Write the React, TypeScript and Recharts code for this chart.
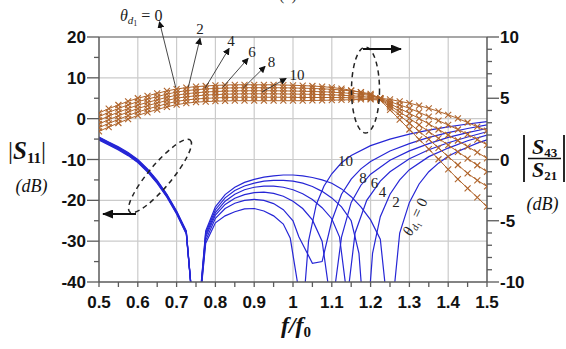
import React from 'react';
import { ComposedChart, Line, XAxis, YAxis, ReferenceLine } from 'recharts';

// Frequency grid (f/f0) shared by the |S43/S21| traces
const freqGrid = [
  0.5, 0.525, 0.55, 0.575, 0.6, 0.625, 0.65, 0.675, 0.7, 0.725, 0.75, 0.775, 0.8, 0.825,
  0.85, 0.875, 0.9, 0.925, 0.95, 0.975, 1.0, 1.025, 1.05, 1.075, 1.1, 1.125, 1.15, 1.175,
  1.2, 1.225, 1.25, 1.275, 1.3, 1.325, 1.35, 1.375, 1.4, 1.425, 1.45, 1.475, 1.5,
];

const xTicks = [
  0.5, 0.55, 0.6, 0.65, 0.7, 0.75, 0.8, 0.85, 0.9, 0.95, 1.0, 1.05, 1.1, 1.15, 1.2, 1.25,
  1.3, 1.35, 1.4, 1.45, 1.5,
];
const leftTicks = [-40, -35, -30, -25, -20, -15, -10, -5, 0, 5, 10, 15, 20];
const rightTicks = [-10, -9, -8, -7, -6, -5, -4, -3, -2, -1, 0, 1, 2, 3, 4, 5, 6, 7, 8, 9, 10];
const xGridValues = [0.6, 0.7, 0.8, 0.9, 1.0, 1.1, 1.2, 1.3, 1.4];
const leftGridValues = [-30, -20, -10, 0, 10];

// |S11| (dB) for theta_d1 = 0, 2, 4, 6, 8, 10 as [f/f0, dB] pairs
const s11Theta0: [number, number][] = [
  [0.5, -4.5], [0.525, -5.7], [0.55, -6.9], [0.575, -8.3], [0.6, -10.0], [0.625, -12.3],
  [0.65, -15.1], [0.675, -18.5], [0.7, -22.6], [0.725, -27.5], [0.75, -55],
  [0.775, -27.5], [0.8, -21.6], [0.825, -18.6], [0.85, -16.8], [0.875, -15.6], [0.9, -14.85],
  [0.925, -14.3], [0.95, -14.0], [0.975, -13.8], [1.0, -13.8], [1.025, -14.0], [1.05, -14.4],
  [1.075, -15.0], [1.1, -15.8], [1.125, -17.2], [1.15, -19.1], [1.175, -21.6], [1.2, -24.8],
  [1.225, -29.5], [1.25, -52], [1.275, -28], [1.3, -20.5], [1.325, -16], [1.35, -13],
  [1.375, -10.9], [1.4, -9.2], [1.425, -8.0], [1.45, -7.0], [1.475, -6.0], [1.5, -5.2],
];
const s11Theta2: [number, number][] = [
  [0.5, -4.65], [0.525, -5.85], [0.55, -7.05], [0.575, -8.45], [0.6, -10.15], [0.625, -12.45],
  [0.65, -15.25], [0.675, -18.65], [0.7, -22.75], [0.725, -27.65], [0.75, -55],
  [0.775, -28], [0.8, -22.3], [0.825, -19.4], [0.85, -17.6], [0.875, -16.5], [0.9, -15.8],
  [0.925, -15.3], [0.95, -15.1], [0.975, -15.1], [1.0, -15.3], [1.025, -15.8], [1.05, -16.6],
  [1.075, -17.8], [1.1, -19.4], [1.125, -21.6], [1.15, -25], [1.17, -33], [1.1875, -55],
  [1.205, -33], [1.225, -24], [1.25, -18.5], [1.275, -15], [1.3, -12.5], [1.35, -9.3],
  [1.4, -7.2], [1.45, -5.4], [1.5, -4.0],
];
const s11Theta4: [number, number][] = [
  [0.5, -4.8], [0.525, -6.0], [0.55, -7.2], [0.575, -8.6], [0.6, -10.3], [0.625, -12.6],
  [0.65, -15.4], [0.675, -18.8], [0.7, -22.9], [0.725, -27.8], [0.75, -55],
  [0.775, -28.5], [0.8, -23], [0.825, -20.2], [0.85, -18.5], [0.875, -17.4], [0.9, -16.8],
  [0.925, -16.5], [0.95, -16.5], [0.975, -16.8], [1.0, -17.4], [1.025, -18.4], [1.05, -19.8],
  [1.075, -21.8], [1.1, -24.5], [1.12, -29], [1.14, -44], [1.16, -28], [1.19, -20],
  [1.225, -15.3], [1.25, -13], [1.3, -9.8], [1.35, -7.6], [1.4, -5.9], [1.45, -4.5], [1.5, -3.2],
];
const s11Theta6: [number, number][] = [
  [0.5, -4.95], [0.525, -6.15], [0.55, -7.35], [0.575, -8.75], [0.6, -10.45], [0.625, -12.75],
  [0.65, -15.55], [0.675, -18.95], [0.7, -23.05], [0.725, -27.95], [0.75, -55],
  [0.775, -29], [0.8, -23.6], [0.825, -21], [0.85, -19.5], [0.875, -18.6], [0.9, -18.1],
  [0.925, -18.0], [0.95, -18.3], [0.975, -19.0], [1.0, -20.2], [1.025, -22], [1.05, -24.8],
  [1.075, -30], [1.1, -47], [1.125, -29], [1.15, -20.5], [1.175, -16.3], [1.2, -13.6],
  [1.25, -10.2], [1.3, -7.9], [1.35, -6.1], [1.4, -4.6], [1.45, -3.4], [1.5, -2.4],
];
const s11Theta8: [number, number][] = [
  [0.5, -5.1], [0.525, -6.3], [0.55, -7.5], [0.575, -8.9], [0.6, -10.6], [0.625, -12.9],
  [0.65, -15.7], [0.675, -19.1], [0.7, -23.2], [0.725, -28.1], [0.75, -55],
  [0.775, -29.8], [0.8, -24.4], [0.825, -22], [0.85, -20.7], [0.875, -20.0], [0.9, -19.75],
  [0.925, -20.0], [0.95, -20.8], [0.975, -22.3], [1.0, -25], [1.015, -28.9], [1.05, -35.4],
  [1.075, -35], [1.1, -25], [1.125, -18.5], [1.15, -14.8], [1.175, -12.3], [1.2, -10.5],
  [1.25, -7.9], [1.3, -6.1], [1.35, -4.6], [1.4, -3.4], [1.45, -2.4], [1.5, -1.5],
];
const s11Theta10: [number, number][] = [
  [0.5, -5.25], [0.525, -6.45], [0.55, -7.65], [0.575, -9.05], [0.6, -10.75], [0.625, -13.05],
  [0.65, -15.85], [0.675, -19.25], [0.7, -23.35], [0.725, -28.25], [0.75, -55],
  [0.775, -30.5], [0.8, -25.5], [0.825, -23.8], [0.85, -22.8], [0.875, -22.1], [0.9, -22.0],
  [0.925, -22.6], [0.95, -23.8], [0.975, -25.8], [0.993, -29.3], [1.025, -48], [1.04, -30],
  [1.06, -21], [1.08, -16.5], [1.1, -13.5], [1.125, -10.8], [1.15, -9.0], [1.2, -6.6],
  [1.25, -5.0], [1.3, -3.8], [1.35, -2.8], [1.4, -2.0], [1.45, -1.3], [1.5, -0.74],
];

// |S43/S21| (dB) on freqGrid
const s43Theta0 = [
  3.8, 4.15, 4.45, 4.75, 5.0, 5.2, 5.4, 5.6, 5.75, 5.87, 5.95, 6.0, 6.05, 6.08, 6.1, 6.1, 6.1,
  6.1, 6.1, 6.08, 6.06, 6.03, 6.0, 5.95, 5.88, 5.78, 5.65, 5.48, 5.25, 5.0, 4.9, 4.75, 4.6, 4.4,
  4.18, 3.93, 3.65, 3.35, 3.02, 2.68, 2.35,
];
const s43Theta2 = [
  3.5, 3.85, 4.16, 4.46, 4.72, 4.93, 5.13, 5.34, 5.5, 5.62, 5.7, 5.76, 5.8, 5.83, 5.85, 5.86,
  5.86, 5.86, 5.86, 5.85, 5.84, 5.82, 5.8, 5.77, 5.73, 5.67, 5.6, 5.5, 5.35, 5.0, 4.72, 4.45,
  4.18, 3.85, 3.5, 3.17, 2.82, 2.45, 2.05, 1.63, 1.2,
];
const s43Theta4 = [
  3.2, 3.55, 3.86, 4.16, 4.44, 4.66, 4.87, 5.08, 5.25, 5.37, 5.45, 5.51, 5.55, 5.58, 5.6, 5.61,
  5.61, 5.61, 5.61, 5.6, 5.59, 5.57, 5.55, 5.53, 5.5, 5.45, 5.4, 5.33, 5.22, 4.98, 4.55, 4.15,
  3.77, 3.35, 2.9, 2.45, 2.0, 1.55, 1.05, 0.58, 0.1,
];
const s43Theta6 = [
  2.9, 3.25, 3.57, 3.88, 4.16, 4.4, 4.61, 4.82, 5.0, 5.12, 5.2, 5.26, 5.3, 5.33, 5.35, 5.36,
  5.36, 5.36, 5.36, 5.35, 5.34, 5.33, 5.32, 5.3, 5.28, 5.25, 5.2, 5.15, 5.07, 4.95, 4.4, 3.88,
  3.36, 2.82, 2.28, 1.73, 1.18, 0.63, 0.08, -0.47, -1.0,
];
const s43Theta8 = [
  2.6, 2.95, 3.27, 3.59, 3.88, 4.12, 4.34, 4.56, 4.74, 4.86, 4.94, 4.99, 5.03, 5.06, 5.08, 5.08,
  5.08, 5.08, 5.08, 5.08, 5.07, 5.06, 5.06, 5.06, 5.06, 5.05, 5.04, 5.02, 4.98, 4.9, 4.25, 3.6,
  2.96, 2.3, 1.65, 0.95, 0.23, -0.45, -1.13, -1.7, -2.2,
];
const s43Theta10 = [
  2.3, 2.65, 2.98, 3.3, 3.6, 3.85, 4.08, 4.3, 4.48, 4.6, 4.68, 4.73, 4.76, 4.78, 4.8, 4.8, 4.8,
  4.8, 4.8, 4.8, 4.8, 4.8, 4.82, 4.83, 4.85, 4.86, 4.88, 4.9, 4.9, 4.85, 4.05, 3.25, 2.45, 1.65,
  0.85, 0.02, -0.8, -1.6, -2.35, -3.1, -3.85,
];

const s11Series = [s11Theta0, s11Theta2, s11Theta4, s11Theta6, s11Theta8, s11Theta10];
const s43Series = [s43Theta0, s43Theta2, s43Theta4, s43Theta6, s43Theta8, s43Theta10];

const BLUE = '#2626d6';
const BROWN = '#b0652c';
const AXIS = '#5a5a5a';
const GRID = '#cbcbcb';
const TICK_FONT = '"Liberation Sans", Arial, sans-serif';
const SERIF = '"Liberation Serif", "DejaVu Serif", serif';

const isMultiple = (v: number, step: number) =>
  Math.abs(Math.round(v / step) * step - v) < 1e-6;

const LeftTick = (props: any) => {
  const { x, y, payload } = props;
  const major = isMultiple(payload.value, 10);
  return (
    <g>
      <line x1={x - (major ? 12 : 5)} x2={x} y1={y} y2={y} stroke={AXIS} strokeWidth={1.3} />
      {major && (
        <text x={x - 13} y={y + 6} textAnchor="end" fontFamily={TICK_FONT} fontWeight="bold" fontSize={17} fill="#111">
          {payload.value}
        </text>
      )}
    </g>
  );
};

const RightTick = (props: any) => {
  const { x, y, payload } = props;
  const major = isMultiple(payload.value, 5);
  return (
    <g>
      <line x1={x} x2={x + (major ? 12 : 5)} y1={y} y2={y} stroke={AXIS} strokeWidth={1.3} />
      {major && (
        <text x={x + 13} y={y + 6} textAnchor="start" fontFamily={TICK_FONT} fontWeight="bold" fontSize={17} fill="#111">
          {payload.value}
        </text>
      )}
    </g>
  );
};

const BottomTick = (props: any) => {
  const { x, y, payload } = props;
  const major = isMultiple(payload.value, 0.1);
  return (
    <g>
      <line x1={x} x2={x} y1={y} y2={y + 5} stroke={AXIS} strokeWidth={1.3} />
      {major && (
        <text x={x} y={y + 26} textAnchor="middle" fontFamily={TICK_FONT} fontWeight="bold" fontSize={17} fill="#111">
          {String(Math.round(payload.value * 10) / 10)}
        </text>
      )}
    </g>
  );
};

const CrossDot = (props: any) => {
  const { cx, cy, index } = props;
  if (cx == null || cy == null) return <g key={`d-${index}`} />;
  const s = 3;
  return (
    <g key={`d-${index}`}>
      <line x1={cx - s} y1={cy - s} x2={cx + s} y2={cy + s} stroke={BROWN} strokeWidth={1.1} />
      <line x1={cx - s} y1={cy + s} x2={cx + s} y2={cy - s} stroke={BROWN} strokeWidth={1.1} />
    </g>
  );
};

const Annotations = () => (
  <svg
    width={566}
    height={349}
    style={{ position: 'absolute', left: 0, top: 0, pointerEvents: 'none', overflow: 'visible' }}
  >
    <defs>
      <marker id="tipSmall" markerUnits="userSpaceOnUse" markerWidth={7} markerHeight={7} refX={6} refY={3.5} orient="auto">
        <path d="M0,0 L7,3.5 L0,7 z" fill="#111" />
      </marker>
      <marker id="tipBig" markerUnits="userSpaceOnUse" markerWidth={11} markerHeight={9} refX={10} refY={4.5} orient="auto">
        <path d="M0,0 L11,4.5 L0,9 z" fill="#111" />
      </marker>
    </defs>

    {/* panel tag, mostly above the top edge */}
    <text x={288} y={0} textAnchor="middle" fontFamily={SERIF} fontSize={16} fill="#333">(a)</text>

    {/* theta labels for the transmission traces */}
    <text x={120} y={21} fontFamily={SERIF} fontSize={16} fill="#222">
      <tspan fontStyle="italic">θ</tspan>
      <tspan fontStyle="italic" fontSize={11} dy={3}>d</tspan>
      <tspan fontSize={8} dy={2}>1</tspan>
      <tspan dy={-5}> = 0</tspan>
    </text>
    <text x={200} y={34} textAnchor="middle" fontFamily={SERIF} fontSize={15} fill="#222">2</text>
    <text x={231} y={46} textAnchor="middle" fontFamily={SERIF} fontSize={15} fill="#222">4</text>
    <text x={252} y={56.5} textAnchor="middle" fontFamily={SERIF} fontSize={15} fill="#222">6</text>
    <text x={271.5} y={66.5} textAnchor="middle" fontFamily={SERIF} fontSize={15} fill="#222">8</text>
    <text x={297} y={80} textAnchor="middle" fontFamily={SERIF} fontSize={15} fill="#222">10</text>

    <g stroke="#333" strokeWidth={0.9} fill="none">
      <line x1={175.7} y1={87.3} x2={159.5} y2={22} markerEnd="url(#tipSmall)" />
      <line x1={188.3} y1={87.3} x2={200} y2={38.5} markerEnd="url(#tipSmall)" />
      <line x1={205} y1={88.3} x2={229} y2={48.5} markerEnd="url(#tipSmall)" />
      <line x1={222.7} y1={87.3} x2={248} y2={58.5} markerEnd="url(#tipSmall)" />
      <line x1={243.3} y1={88} x2={265} y2={66.5} markerEnd="url(#tipSmall)" />
      <line x1={262} y1={92} x2={286} y2={78.5} markerEnd="url(#tipSmall)" />
    </g>

    {/* theta labels for the reflection traces */}
    <g fontFamily={SERIF} fontSize={15} fill="#222" textAnchor="middle">
      <text x={345.5} y={166}>10</text>
      <text x={363} y={183}>8</text>
      <text x={374.5} y={188}>6</text>
      <text x={382.5} y={197}>4</text>
      <text x={396} y={207}>2</text>
      <text x={415} y={216.7} transform="rotate(-65 415 216.7)" dy={5}>
        <tspan fontStyle="italic">θ</tspan>
        <tspan fontStyle="italic" fontSize={10} dy={3}>d</tspan>
        <tspan fontSize={7} dy={2}>1</tspan>
        <tspan dy={-5}> = 0</tspan>
      </text>
    </g>

    {/* axis pointers */}
    <ellipse cx={160} cy={176} rx={47} ry={11.5} transform="rotate(-50 160 176)" fill="none" stroke="#222" strokeWidth={1.5} strokeDasharray="5 4" />
    <line x1={136} y1={214} x2={103} y2={214} stroke="#111" strokeWidth={2.2} markerEnd="url(#tipBig)" />
    <ellipse cx={365.5} cy={90} rx={14} ry={43} fill="none" stroke="#222" strokeWidth={1.5} strokeDasharray="5 4" />
    <line x1={363} y1={49} x2={401} y2={49} stroke="#111" strokeWidth={2.2} markerEnd="url(#tipBig)" />

    {/* left axis title */}
    <text x={8} y={159} fontFamily={SERIF} fontSize={25} fill="#111">
      <tspan>|</tspan>
      <tspan fontStyle="italic" fontWeight="bold">S</tspan>
      <tspan fontWeight="bold" fontSize={15} dy={4}>11</tspan>
      <tspan dy={-4}>|</tspan>
    </text>
    <text x={31.5} y={192} textAnchor="middle" fontFamily={SERIF} fontStyle="italic" fontSize={18} fill="#111">(dB)</text>

    {/* right axis title */}
    <line x1={524} y1={135} x2={524} y2={182} stroke="#111" strokeWidth={1.8} />
    <line x1={564} y1={135} x2={564} y2={182} stroke="#111" strokeWidth={1.8} />
    <text x={544.5} y={153.5} textAnchor="middle" fontFamily={SERIF} fontSize={22} fill="#111">
      <tspan fontStyle="italic" fontWeight="bold">S</tspan>
      <tspan fontWeight="bold" fontSize={13} dy={3}>43</tspan>
    </text>
    <line x1={528} y1={158.5} x2={561} y2={158.5} stroke="#111" strokeWidth={1.5} />
    <text x={544.5} y={177} textAnchor="middle" fontFamily={SERIF} fontSize={22} fill="#111">
      <tspan fontStyle="italic" fontWeight="bold">S</tspan>
      <tspan fontWeight="bold" fontSize={13} dy={3}>21</tspan>
    </text>
    <text x={542.5} y={210} textAnchor="middle" fontFamily={SERIF} fontStyle="italic" fontSize={18} fill="#111">(dB)</text>

    {/* x axis title */}
    <text x={296} y={333} textAnchor="middle" fontFamily={SERIF} fontSize={24} fontWeight="bold" fontStyle="italic" fill="#111">
      f/f<tspan fontSize={15} dy={4} fontStyle="normal">0</tspan>
    </text>
  </svg>
);

export default function App() {
  const s11Data = s11Series.map((pts) => pts.map(([f, v]) => ({ f, v })));
  const s43Data = s43Series.map((vals) => vals.map((v, i) => ({ f: freqGrid[i], v })));

  return (
    <div style={{ position: 'absolute', left: 0, top: 0, width: 566, height: 349, background: '#fff' }}>
      <ComposedChart width={566} height={349} margin={{ top: 37, right: 0, bottom: 0, left: 0 }}>
        <XAxis
          xAxisId="x"
          type="number"
          dataKey="f"
          domain={[0.5, 1.5]}
          ticks={xTicks}
          interval={0}
          tick={<BottomTick />}
          tickLine={false}
          tickSize={0}
          tickMargin={0}
          height={67}
          stroke={AXIS}
          strokeWidth={1.5}
          allowDataOverflow
        />
        <YAxis
          yAxisId="left"
          orientation="left"
          type="number"
          domain={[-40, 20]}
          ticks={leftTicks}
          interval={0}
          tick={<LeftTick />}
          tickLine={false}
          tickSize={0}
          tickMargin={0}
          width={99}
          stroke={AXIS}
          strokeWidth={1.5}
          allowDataOverflow
        />
        <YAxis
          yAxisId="right"
          orientation="right"
          type="number"
          domain={[-10, 10]}
          ticks={rightTicks}
          interval={0}
          tick={<RightTick />}
          tickLine={false}
          tickSize={0}
          tickMargin={0}
          width={79}
          stroke={AXIS}
          strokeWidth={1.5}
          allowDataOverflow
        />

        {xGridValues.map((v) => (
          <ReferenceLine key={`gx-${v}`} x={v} xAxisId="x" yAxisId="left" stroke={GRID} strokeWidth={1.2} />
        ))}
        {leftGridValues.map((v) => (
          <ReferenceLine key={`gy-${v}`} y={v} xAxisId="x" yAxisId="left" stroke={GRID} strokeWidth={1.2} />
        ))}
        <ReferenceLine y={20} xAxisId="x" yAxisId="left" stroke="#8a8a8a" strokeWidth={1.5} />

        {s11Data.map((d, i) => (
          <Line
            key={`s11-${i}`}
            data={d}
            dataKey="v"
            xAxisId="x"
            yAxisId="left"
            type="linear"
            stroke={BLUE}
            strokeWidth={1.2}
            dot={false}
            isAnimationActive={false}
          />
        ))}
        {s43Data.map((d, i) => (
          <Line
            key={`s43-${i}`}
            data={d}
            dataKey="v"
            xAxisId="x"
            yAxisId="right"
            type="linear"
            stroke={BROWN}
            strokeWidth={1}
            dot={(p: any) => <CrossDot {...p} />}
            isAnimationActive={false}
          />
        ))}
      </ComposedChart>
      <Annotations />
    </div>
  );
}
